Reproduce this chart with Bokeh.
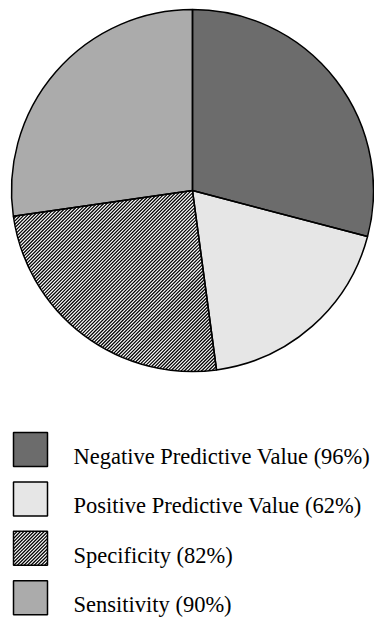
import math
from bokeh.plotting import figure
from bokeh.models import Range1d, ColumnDataSource
from bokeh.core.properties import value
from bokeh.embed import file_html
from bokeh.resources import INLINE

# ---- data ----
categories = ["Negative Predictive Value", "Positive Predictive Value", "Specificity", "Sensitivity"]
percentages = [96, 62, 82, 90]
fills = ["#6c6c6c", "#e6e6e6", "#ffffff", "#ababab"]
striped = [False, False, True, False]
labels = [f"{c} ({v}%)" for c, v in zip(categories, percentages)]

# ---- layout (pixel based coordinates, y flipped) ----
W, H = 374, 619
def Y(py):
    return H - py

p = figure(width=W, height=H, output_backend="svg", toolbar_location=None,
           x_range=Range1d(0, W), y_range=Range1d(0, H),
           min_border=0, outline_line_color=None,
           x_axis_location=None, y_axis_location=None)
p.grid.visible = False
p.background_fill_color = "white"
p.border_fill_color = "white"

total = sum(percentages)
cum = [0]
for v in percentages:
    cum.append(cum[-1] + v)
starts = [math.pi / 2 - 2 * math.pi * cum[i + 1] / total for i in range(len(percentages))]
ends = [math.pi / 2 - 2 * math.pi * cum[i] / total for i in range(len(percentages))]

cx, cy, r = 192, Y(190), 181
DC = 3.4          # horizontal period of the "/" stripes
SW = 1.25         # stripe width

def cross(u, v):
    return u[0] * v[1] - u[1] * v[0]

def sector_stripes(cx, cy, r, a, b, dc):
    """Clip the lines x - y = c to the (convex) sector between angles a..b."""
    xs0, ys0, xs1, ys1 = [], [], [], []
    u = (1 / math.sqrt(2), 1 / math.sqrt(2))
    n = (1 / math.sqrt(2), -1 / math.sqrt(2))
    da = (math.cos(a), math.sin(a))
    db = (math.cos(b), math.sin(b))
    k0 = math.floor((cx - cy - r * 1.5) / dc)
    k1 = math.ceil((cx - cy + r * 1.5) / dc)
    for k in range(k0, k1 + 1):
        c = k * dc
        s = (c - (cx - cy)) / math.sqrt(2)
        if abs(s) >= r:
            continue
        h = math.sqrt(r * r - s * s)
        lo, hi = -h, h
        d0 = (s * n[0], s * n[1])
        # cross(da, d0 + t u) >= 0
        for (A, B) in ((cross(da, d0), cross(da, u)), (-cross(db, d0), -cross(db, u))):
            if abs(B) < 1e-12:
                if A < 0:
                    lo, hi = 1, 0
                continue
            t = -A / B
            if B > 0:
                lo = max(lo, t)
            else:
                hi = min(hi, t)
        if hi > lo:
            xs0.append(cx + d0[0] + lo * u[0]); ys0.append(cy + d0[1] + lo * u[1])
            xs1.append(cx + d0[0] + hi * u[0]); ys1.append(cy + d0[1] + hi * u[1])
    return xs0, ys0, xs1, ys1

def box_stripes(x1, x2, y1, y2, dc):
    xs0, ys0, xs1, ys1 = [], [], [], []
    k0 = math.floor((x1 - y2) / dc)
    k1 = math.ceil((x2 - y1) / dc)
    for k in range(k0, k1 + 1):
        c = k * dc
        a = max(x1, y1 + c)
        b = min(x2, y2 + c)
        if b > a:
            xs0.append(a); ys0.append(a - c)
            xs1.append(b); ys1.append(b - c)
    return xs0, ys0, xs1, ys1

src = ColumnDataSource(dict(start=starts, end=ends, fill=fills))
p.wedge(x=cx, y=cy, radius=r, start_angle="start", end_angle="end",
        fill_color="fill", line_color=None, source=src)
for i, st in enumerate(striped):
    if st:
        x0, y0, x1, y1 = sector_stripes(cx, cy, r, starts[i], ends[i], DC)
        p.segment(x0=x0, y0=y0, x1=x1, y1=y1, line_color="black", line_width=SW)
p.wedge(x=cx, y=cy, radius=r, start_angle="start", end_angle="end",
        fill_color=None, line_color="black", line_width=1.5, source=src)

# ---- legend ----
row0, step = 449, 49.4
rows = [Y(row0 + i * step) for i in range(len(categories))]
lsrc = ColumnDataSource(dict(y=rows, ty=[y - 7 for y in rows], fill=fills, label=labels))
bx, bs = 30, 34
p.rect(x=bx, y="y", width=bs, height=bs, fill_color="fill", line_color=None, source=lsrc)
for i, st in enumerate(striped):
    if st:
        x0, y0, x1, y1 = box_stripes(bx - bs / 2, bx + bs / 2, rows[i] - bs / 2, rows[i] + bs / 2, DC)
        p.segment(x0=x0, y0=y0, x1=x1, y1=y1, line_color="black", line_width=SW)
p.rect(x=bx, y="y", width=bs, height=bs, fill_color=None,
       line_color="black", line_width=1.5, source=lsrc)
p.text(x=73, y="ty", text="label", text_font=value("Liberation Serif"),
       text_font_size="22.5px", text_baseline="alphabetic", text_align="left",
       text_color="black", source=lsrc)

open("out.html", "w").write(file_html(p, INLINE))
